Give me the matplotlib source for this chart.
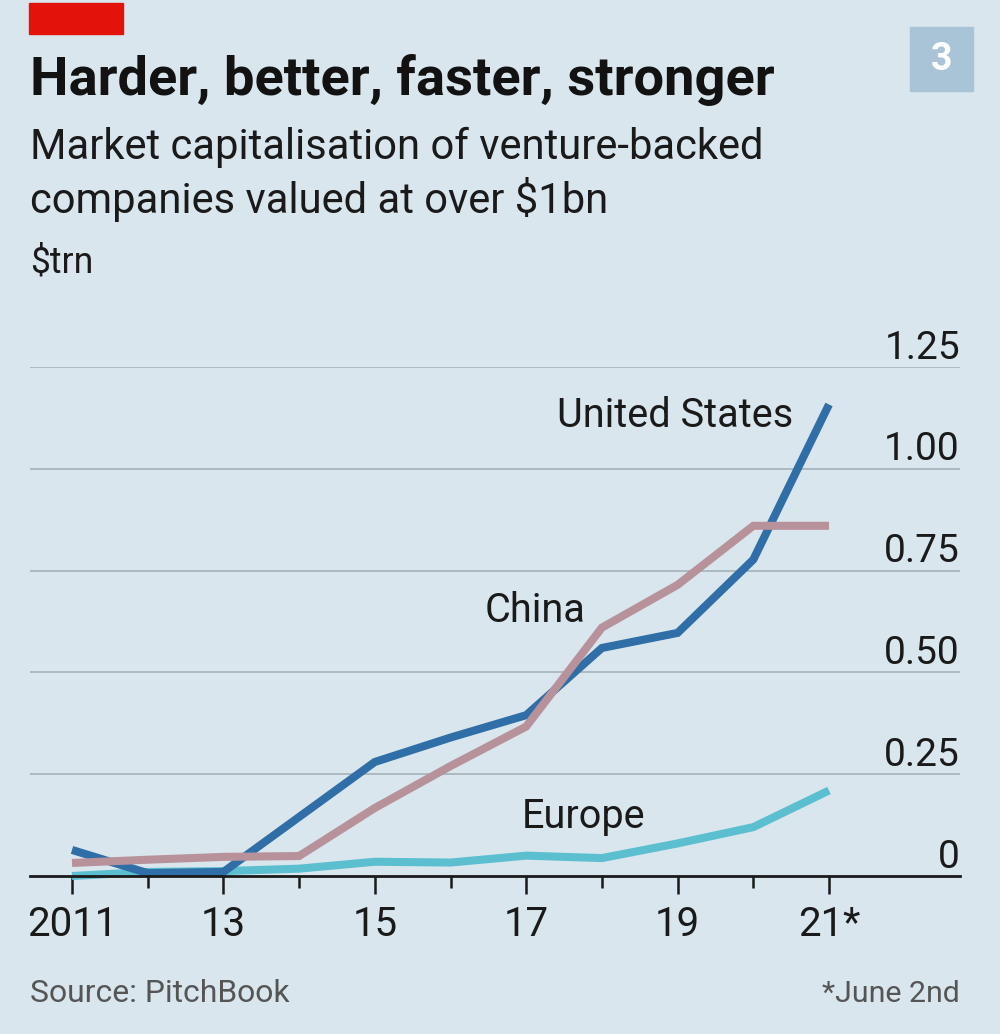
import matplotlib
matplotlib.use("Agg")
import matplotlib.pyplot as plt
from matplotlib.patches import Rectangle
from matplotlib import font_manager
import matplotlib.transforms as mtransforms

# ---- data ----
years = [2011, 2012, 2013, 2014, 2015, 2016, 2017, 2018, 2019, 2020, 2021]
us = [0.064, 0.007, 0.010, 0.145, 0.280, 0.340, 0.395, 0.560, 0.597, 0.777, 1.158]
china = [0.032, 0.040, 0.047, 0.049, 0.167, 0.270, 0.367, 0.610, 0.715, 0.860, 0.860]
europe = [0.000, 0.010, 0.012, 0.018, 0.035, 0.033, 0.050, 0.044, 0.080, 0.120, 0.210]
xtick_labels = ["2011", "", "13", "", "15", "", "17", "", "19", "", "21*"]
yticks = [0, 0.25, 0.50, 0.75, 1.00, 1.25]
ytick_labels = ["0", "0.25", "0.50", "0.75", "1.00", "1.25"]

title = "Harder, better, faster, stronger"
subtitle1 = "Market capitalisation of venture-backed"
subtitle2 = "companies valued at over $1bn"
unit = "$trn"
source = "Source: PitchBook"
footnote = "*June 2nd"

# ---- style ----
names = {f.name for f in font_manager.fontManager.ttflist}
FONT = "Roboto" if "Roboto" in names else "DejaVu Sans"
plt.rcParams["font.family"] = [FONT, "DejaVu Sans"]

BG = "#d9e6ee"
C_US = "#2f6ea6"
C_CN = "#b8929b"
C_EU = "#5bbfd0"
GRID = "#a9b6be"
TXT = "#1a1a1a"

W, H = 1000, 1034
fig = plt.figure(figsize=(W / 100, H / 100), dpi=100)
fig.patch.set_facecolor(BG)

def fx(px):
    return px / W

def fy(py):
    return 1 - py / H

renderer = fig.canvas.get_renderer()

def fit_text(x, y, s, target_w, size, ha="left", **kw):
    t = fig.text(fx(x), fy(y), s, ha=ha, va="baseline", fontsize=size, **kw)
    bb = t.get_window_extent(renderer=renderer)
    if bb.width > 0:
        t.set_fontsize(size * target_w / bb.width)
    return t

# ---- axes ----
left_px, right_px, top_px, bottom_px = 30, 960, 367, 876
ax = fig.add_axes([fx(left_px), fy(bottom_px), (right_px - left_px) / W,
                   (bottom_px - top_px) / H])
ax.set_facecolor(BG)
px_per_year = (829 - 72) / 10
ax.set_xlim(2011 - (72 - left_px) / px_per_year, 2021 + (right_px - 829) / px_per_year)
ax.set_ylim(0, 1.25)

for v in yticks[1:]:
    ax.axhline(v, color=GRID, lw=1.3, zorder=1)

LW = 5.8
ax.plot(years, europe, color=C_EU, lw=LW, zorder=3, solid_capstyle="butt",
        solid_joinstyle="miter", clip_on=False)
ax.plot(years, us, color=C_US, lw=LW, zorder=4, solid_capstyle="butt",
        solid_joinstyle="miter", clip_on=False)
ax.plot(years, china, color=C_CN, lw=LW, zorder=5, solid_capstyle="butt",
        solid_joinstyle="miter", clip_on=False)

for s in ["top", "left", "right"]:
    ax.spines[s].set_visible(False)
ax.spines["bottom"].set_color(TXT)
ax.spines["bottom"].set_linewidth(2.0)
ax.spines["bottom"].set_zorder(6)

ax.set_yticks([])
ax.set_xticks([y for y, l in zip(years, xtick_labels) if l])
ax.set_xticklabels([l for l in xtick_labels if l])
ax.set_xticks([y for y, l in zip(years, xtick_labels) if not l], minor=True)
ax.tick_params(axis="x", which="major", length=13, width=1.8, color=TXT,
               labelsize=29, labelcolor=TXT, pad=8)
ax.tick_params(axis="x", which="minor", length=8.5, width=1.8, color=TXT)

ytrans = ax.get_yaxis_transform()
for v, lab in zip(yticks, ytick_labels):
    off = mtransforms.offset_copy(ytrans, fig=fig, x=0, y=6, units="points")
    ax.text(1.0, v, lab, transform=off, ha="right", va="baseline",
            fontsize=28, color=TXT)

# series labels
lab_kw = dict(fontsize=28.5, color=TXT, va="baseline")
ax.text(2011 + (793 - 72) / px_per_year, (876 - 427) / 406.8, "United States",
        ha="right", **lab_kw)
ax.text(2011 + (485 - 72) / px_per_year, (876 - 622) / 406.8, "China",
        ha="left", **lab_kw)
ax.text(2011 + (522 - 72) / px_per_year, (876 - 828) / 406.8, "Europe",
        ha="left", **lab_kw)

# ---- header ----
fig.patches.append(Rectangle((fx(29), fy(34)), fx(123) - fx(29), fy(3) - fy(34),
                             transform=fig.transFigure, color="#e3120b", zorder=5))
fig.patches.append(Rectangle((fx(910), fy(91)), fx(973) - fx(910), fy(27) - fy(91),
                             transform=fig.transFigure, color="#a9c4d7", zorder=5))
fig.text(fx(941.5), fy(59), "3", ha="center", va="center", color="white",
         fontsize=27, fontweight="bold", zorder=6)

fit_text(30, 95, title, 745, 32, fontweight="bold", color="#121212")
t1 = fit_text(30, 159, subtitle1, 735, 27, color=TXT)
fig.text(fx(30), fy(213), subtitle2, ha="left", va="baseline",
         fontsize=t1.get_fontsize(), color=TXT)
fig.text(fx(30), fy(272), unit, ha="left", va="baseline",
         fontsize=t1.get_fontsize() * 0.85, color=TXT)

fit_text(30, 1002, source, 260, 24, color="#555555")
fit_text(960, 1002, footnote, 138, 24, ha="right", color="#555555")

fig.savefig("out.png", dpi=100, facecolor=BG)
